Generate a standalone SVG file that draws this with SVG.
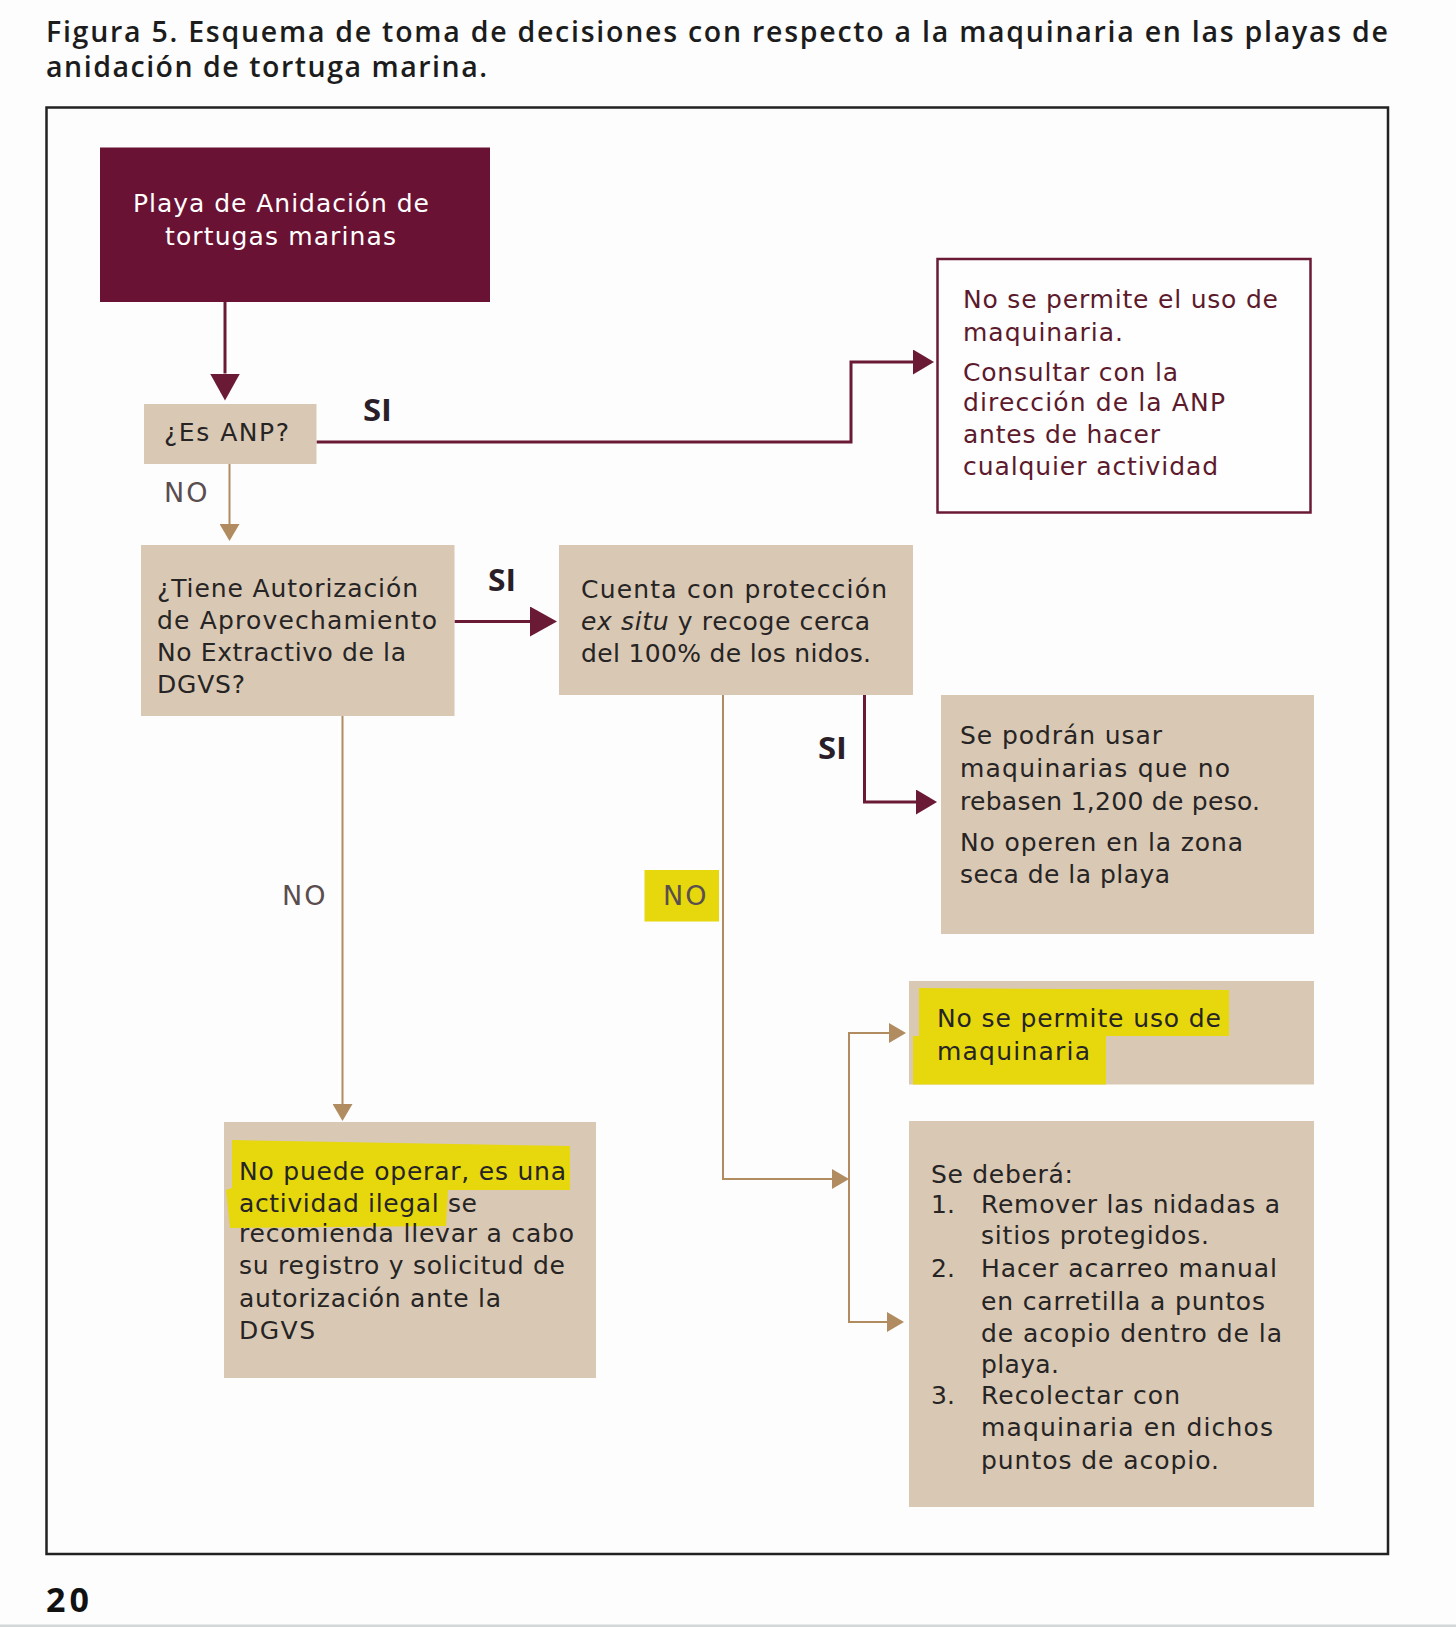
<svg xmlns="http://www.w3.org/2000/svg" width="1456" height="1627" viewBox="0 0 1456 1627">
<style>
.title{font-family:"Open Sans","Liberation Sans",sans-serif;font-weight:600;font-size:28.5px;fill:#1c1c1c}
.body{font-family:"DejaVu Sans","Liberation Sans",sans-serif;font-size:25px;fill:#262424}
.white{fill:#ffffff}
.mar{fill:#5c1a2c}
.si{font-family:"Open Sans","Liberation Sans",sans-serif;font-weight:700;font-size:31px;fill:#2a1f28}
.no{font-family:"DejaVu Sans","Liberation Sans",sans-serif;font-size:27px;fill:#5b4e4e}
.tan{fill:#d9c8b3}
.ml{fill:none;stroke:#6b1a35;stroke-width:3}
.tl{fill:none;stroke:#b08c60;stroke-width:2}
.hl{fill:#e6d80c}
</style>
<defs>
<marker id="mh" markerUnits="userSpaceOnUse" markerWidth="27" markerHeight="30" viewBox="0 0 27 30" refX="0" refY="15" orient="auto"><path d="M0,0 L27,15 L0,30 z" fill="#6b1a35"/></marker>
<marker id="ms" markerUnits="userSpaceOnUse" markerWidth="21" markerHeight="25" viewBox="0 0 21 25" refX="0" refY="12.5" orient="auto"><path d="M0,0 L21,12.5 L0,25 z" fill="#6b1a35"/></marker>
<marker id="th" markerUnits="userSpaceOnUse" markerWidth="17" markerHeight="20" viewBox="0 0 17 20" refX="0" refY="10" orient="auto"><path d="M0,0 L17,10 L0,20 z" fill="#b08c60"/></marker>
</defs>
<rect x="0" y="0" width="1456" height="1627" fill="#fdfdfd"/>
<rect x="0" y="1624.5" width="1456" height="2.5" fill="#d4d8d8"/>

<g id="title">
<text class="title" x="46" y="41.5" textLength="1342" lengthAdjust="spacing">Figura 5. Esquema de toma de decisiones con respecto a la maquinaria en las playas de</text>
<text class="title" x="46" y="76.5" textLength="441" lengthAdjust="spacing">anidación de tortuga marina.</text>
</g>
<rect id="frame" x="46.5" y="107.5" width="1341.5" height="1446.5" fill="none" stroke="#222" stroke-width="2.5"/>
<text id="page" x="46" y="1612" font-family="Open Sans, Liberation Sans, sans-serif" font-weight="700" font-size="34" fill="#111" textLength="43" lengthAdjust="spacing">20</text>

<g id="connectors">
<line class="ml" x1="225" y1="302" x2="225" y2="373.5" marker-end="url(#mh)"/>
<polyline class="ml" points="316.5,442 851,442 851,362 913,362" marker-end="url(#ms)"/>
<line class="tl" x1="229.5" y1="464" x2="229.5" y2="524" marker-end="url(#th)"/>
<line class="ml" x1="454.5" y1="621.5" x2="530" y2="621.5" marker-end="url(#mh)"/>
<polyline class="ml" points="864.5,695 864.5,802 916,802" marker-end="url(#ms)"/>
<polyline class="tl" points="723,695 723,1179 832,1179" marker-end="url(#th)"/>
<line class="tl" x1="849" y1="1033" x2="849" y2="1322"/>
<line class="tl" x1="848" y1="1033" x2="889" y2="1033" marker-end="url(#th)"/>
<line class="tl" x1="848" y1="1322" x2="887" y2="1322" marker-end="url(#th)"/>
<line class="tl" x1="342.5" y1="716" x2="342.5" y2="1104" marker-end="url(#th)"/>
<text class="si" x="363" y="421" textLength="29" lengthAdjust="spacingAndGlyphs">SI</text>
<text class="si" x="488" y="590.5" textLength="28" lengthAdjust="spacingAndGlyphs">SI</text>
<text class="si" x="818" y="758.5" textLength="29" lengthAdjust="spacingAndGlyphs">SI</text>
<text class="no" x="164" y="502" letter-spacing="2">NO</text>
<text class="no" x="282" y="905" letter-spacing="2">NO</text>
<rect class="hl" x="644.5" y="870" width="74.5" height="51.5"/>
<text class="no" x="663" y="905" letter-spacing="2">NO</text>
</g>

<g id="node-playa">
<rect x="100" y="147.5" width="390" height="154.5" fill="#6a1233"/>
<text class="body white" x="133" y="212" textLength="296" lengthAdjust="spacing">Playa de Anidación de</text>
<text class="body white" x="165" y="244.5" textLength="231" lengthAdjust="spacing">tortugas marinas</text>
</g>

<g id="node-anp">
<rect class="tan" x="144" y="404" width="172.5" height="60"/>
<text class="body" x="164" y="441" textLength="125" lengthAdjust="spacing">¿Es ANP?</text>
</g>

<g id="node-anp-si">
<rect x="937.5" y="259" width="373" height="253.5" fill="#fefefe" stroke="#6b1a35" stroke-width="2.5"/>
<text class="body mar" x="963" y="308" textLength="315" lengthAdjust="spacing">No se permite el uso de</text>
<text class="body mar" x="963" y="340.5" textLength="160" lengthAdjust="spacing">maquinaria.</text>
<text class="body mar" x="963" y="381" textLength="215" lengthAdjust="spacing">Consultar con la</text>
<text class="body mar" x="963" y="411" textLength="262" lengthAdjust="spacing">dirección de la ANP</text>
<text class="body mar" x="963" y="443" textLength="197" lengthAdjust="spacing">antes de hacer</text>
<text class="body mar" x="963" y="475" textLength="255" lengthAdjust="spacing">cualquier actividad</text>
</g>

<g id="node-autorizacion">
<rect class="tan" x="141" y="545" width="313.5" height="171"/>
<text class="body" x="157" y="597" textLength="261" lengthAdjust="spacing">¿Tiene Autorización</text>
<text class="body" x="157" y="629" textLength="280" lengthAdjust="spacing">de Aprovechamiento</text>
<text class="body" x="157" y="661" textLength="249" lengthAdjust="spacing">No Extractivo de la</text>
<text class="body" x="157" y="693" textLength="88" lengthAdjust="spacing">DGVS?</text>
</g>

<g id="node-proteccion">
<rect class="tan" x="559" y="545" width="354" height="150"/>
<text class="body" x="581" y="597.5" textLength="306" lengthAdjust="spacing">Cuenta con protección</text>
<text class="body" x="581" y="630" textLength="289" lengthAdjust="spacing"><tspan font-style="italic">ex situ</tspan> y recoge cerca</text>
<text class="body" x="581" y="662" textLength="290" lengthAdjust="spacing">del 100% de los nidos.</text>
</g>

<g id="node-podran">
<rect class="tan" x="941" y="695" width="373" height="239"/>
<text class="body" x="960" y="744" textLength="202" lengthAdjust="spacing">Se podrán usar</text>
<text class="body" x="960" y="777" textLength="270" lengthAdjust="spacing">maquinarias que no</text>
<text class="body" x="960" y="809.5" textLength="300" lengthAdjust="spacing">rebasen 1,200 de peso.</text>
<text class="body" x="960" y="851" textLength="283" lengthAdjust="spacing">No operen en la zona</text>
<text class="body" x="960" y="883" textLength="210" lengthAdjust="spacing">seca de la playa</text>
</g>

<g id="node-no-permite">
<rect class="tan" x="909" y="981" width="405" height="103.5"/>
<polygon class="hl" points="919,988 1229,990 1229,1036 1106,1036 1106,1084.5 913,1084.5 913,1036 919,1036"/>
<text class="body" x="937" y="1027" textLength="284" lengthAdjust="spacing">No se permite uso de</text>
<text class="body" x="937" y="1059.5" textLength="153" lengthAdjust="spacing">maquinaria</text>
</g>

<g id="node-no-puede">
<rect class="tan" x="224" y="1122" width="372" height="256"/>
<polygon class="hl" points="232,1140 570,1146 570,1190 448,1190 446,1226 230,1228 226,1190 232,1188"/>
<text class="body" x="239" y="1180" textLength="327" lengthAdjust="spacing">No puede operar, es una</text>
<text class="body" x="239" y="1212" textLength="238" lengthAdjust="spacing">actividad ilegal se</text>
<text class="body" x="239" y="1242" textLength="335" lengthAdjust="spacing">recomienda llevar a cabo</text>
<text class="body" x="239" y="1274" textLength="326" lengthAdjust="spacing">su registro y solicitud de</text>
<text class="body" x="239" y="1306.5" textLength="262" lengthAdjust="spacing">autorización ante la</text>
<text class="body" x="239" y="1338.5" textLength="76" lengthAdjust="spacing">DGVS</text>
</g>

<g id="node-debera">
<rect class="tan" x="909" y="1121" width="405" height="386"/>
<text class="body" x="931" y="1183" textLength="142" lengthAdjust="spacing">Se deberá:</text>
<text class="body" x="931" y="1213">1.</text>
<text class="body" x="981" y="1213" textLength="299" lengthAdjust="spacing">Remover las nidadas a</text>
<text class="body" x="981" y="1244" textLength="228" lengthAdjust="spacing">sitios protegidos.</text>
<text class="body" x="931" y="1276.5">2.</text>
<text class="body" x="981" y="1276.5" textLength="296" lengthAdjust="spacing">Hacer acarreo manual</text>
<text class="body" x="981" y="1309.5" textLength="284" lengthAdjust="spacing">en carretilla a puntos</text>
<text class="body" x="981" y="1342" textLength="301" lengthAdjust="spacing">de acopio dentro de la</text>
<text class="body" x="981" y="1373" textLength="78" lengthAdjust="spacing">playa.</text>
<text class="body" x="931" y="1404">3.</text>
<text class="body" x="981" y="1404" textLength="199" lengthAdjust="spacing">Recolectar con</text>
<text class="body" x="981" y="1436" textLength="292" lengthAdjust="spacing">maquinaria en dichos</text>
<text class="body" x="981" y="1468.5" textLength="238" lengthAdjust="spacing">puntos de acopio.</text>
</g>
</svg>
